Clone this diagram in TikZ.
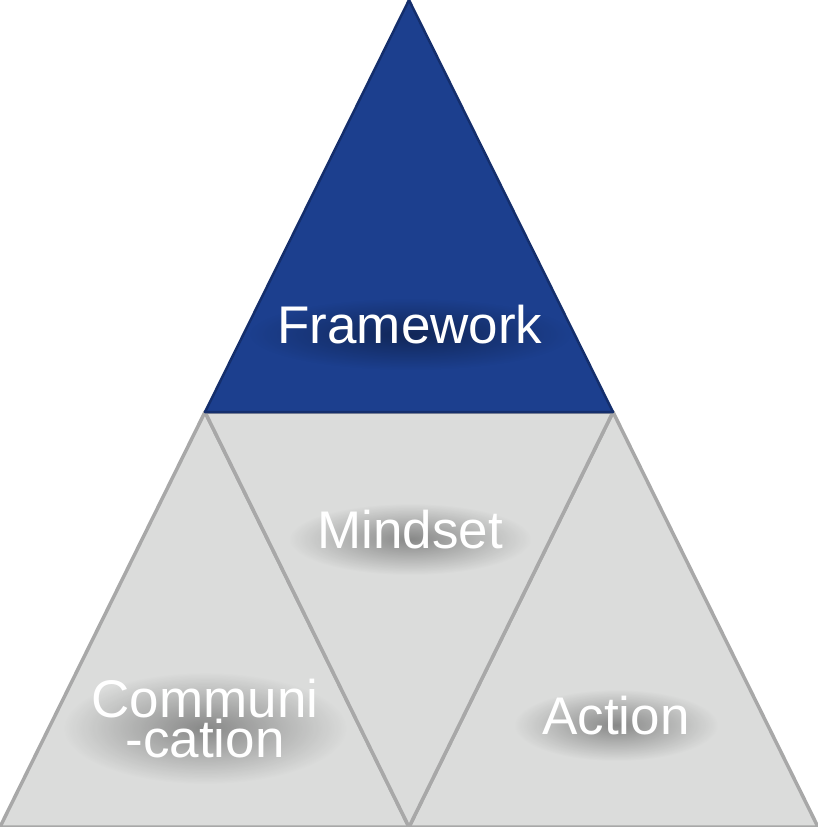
\documentclass[tikz,border=0pt]{standalone}
\usepackage{fontspec}
\setmainfont{Liberation Sans}
\usepackage{xcolor}
\usetikzlibrary{positioning,calc,fadings}
\definecolor{fwblue}{HTML}{1C3F8E}
\definecolor{fwedge}{HTML}{142E6C}
\definecolor{facegray}{HTML}{DBDCDB}
\definecolor{edgegray}{HTML}{A8A8A8}
\tikzfading[name=softedge,inner color=transparent!0,outer color=transparent!100]
\pgfdeclarelayer{faces}
\pgfdeclarelayer{shades}
\pgfsetlayers{faces,shades,main}
\tikzset{
  face/.style={fill=facegray,draw=edgegray,line width=3.5pt,line join=round},
  topface/.style={fill=fwblue,draw=fwedge,line width=2.5pt,line join=round},
  word/.style={text=white,inner sep=0pt,anchor=base,align=center,
    font=\fontsize{53}{40}\selectfont},
  haze/.style={fill=black,opacity=0.38,path fading=softedge}
}
% soft shadow below a text node
\newcommand{\hazeunder}[1]{%
  \begin{pgfonlayer}{shades}
    \fill[haze] ($(#1.north west)+(-28,-6)$) rectangle ($(#1.south east)+(28,26)$);
  \end{pgfonlayer}
}

\begin{document}
\begin{tikzpicture}[x=1pt,y=-1pt]
  \useasboundingbox (0,0) rectangle (818,827);
  \coordinate (T)  at (409,0);
  \coordinate (ML) at (205,412);
  \coordinate (MR) at (613,412);
  \coordinate (BL) at (0,827);
  \coordinate (BM) at (409,827);
  \coordinate (BR) at (818,827);

  \begin{pgfonlayer}{faces}
    \draw[face] (ML) -- (BL) -- (BM) -- cycle;
    \draw[face] (MR) -- (BM) -- (BR) -- cycle;
    \draw[face] (ML) -- (MR) -- (BM) -- cycle;
    \draw[topface] (T) -- (ML) -- (MR) -- cycle;
  \end{pgfonlayer}

  \node[word] (framework) at (410,343) {Framework};
  \node[word] (mindset) at (410,548) {Mindset};
  \node[word] (communication) at (205,757) {Communi\\-cation};
  \node[word] (action) at (616,734) {Action};
  \foreach \w in {framework,mindset,communication,action}{
    \hazeunder{\w}
  }
\end{tikzpicture}
\end{document}
